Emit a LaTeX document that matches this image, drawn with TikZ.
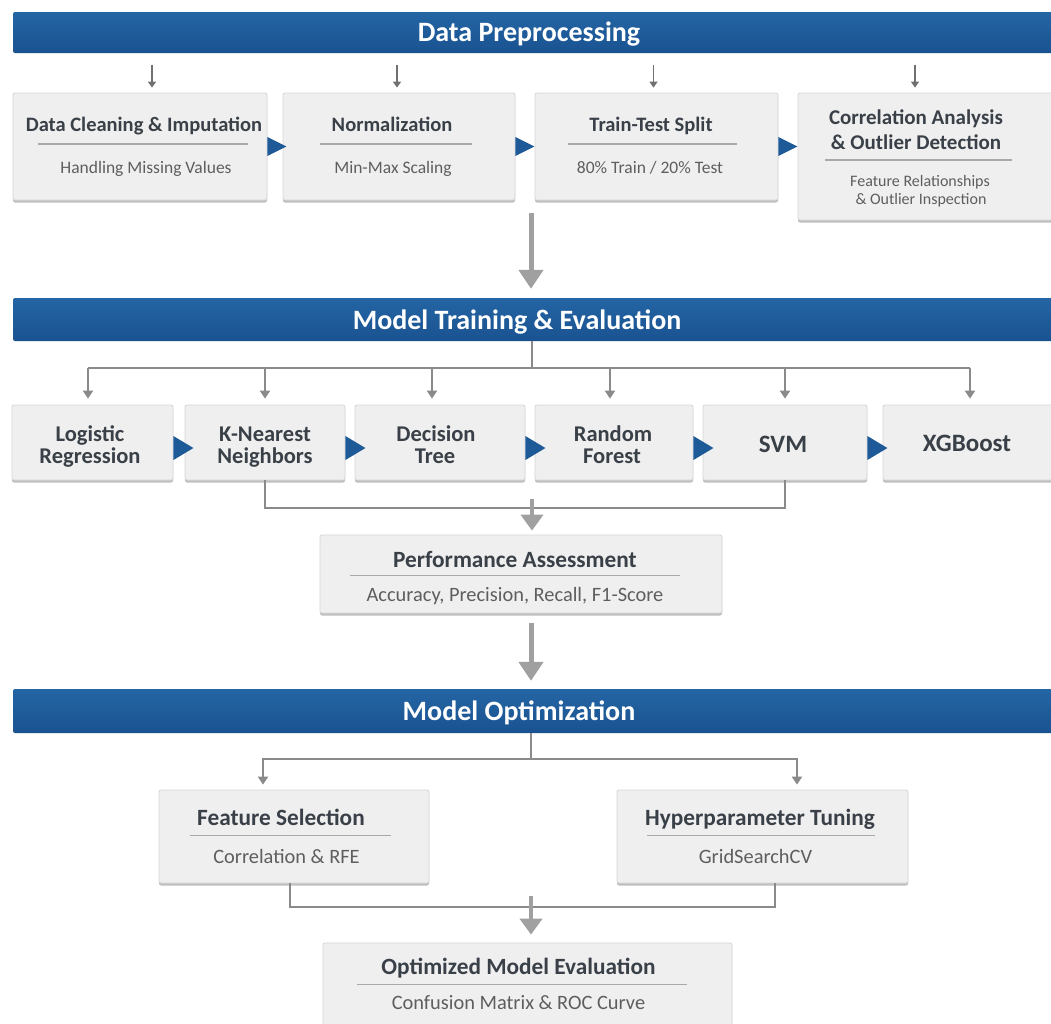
\documentclass[tikz,border=0pt]{standalone}
\usepackage{fontspec}
\setmainfont{Carlito}
\usetikzlibrary{arrows.meta,shadows,calc}
\definecolor{banblue}{HTML}{1E5A97}
\definecolor{bantop}{HTML}{2465A4}
\definecolor{banbot}{HTML}{1A5290}
\definecolor{boxfill}{HTML}{EFEFEF}
\definecolor{boxline}{HTML}{D6D6D6}
\definecolor{ttlcol}{HTML}{3A4048}
\definecolor{subcol}{HTML}{5E5E5E}
\definecolor{conncol}{HTML}{8A8A8A}
\definecolor{thincol}{HTML}{707070}
\definecolor{bigcol}{HTML}{A0A0A0}
\definecolor{sepcol}{HTML}{A8A8A8}
\newcommand\fBan{\fontsize{28}{32}\selectfont\bfseries}
\newcommand\fTa{\fontsize{20.5}{24}\selectfont\bfseries}
\newcommand\fSa{\fontsize{17.5}{20}\selectfont}
\newcommand\fTb{\fontsize{21}{25}\selectfont\bfseries}
\newcommand\fSb{\fontsize{16}{19}\selectfont}
\newcommand\fTm{\fontsize{22.5}{26}\selectfont\bfseries}
\newcommand\fTl{\fontsize{25}{29}\selectfont\bfseries}
\newcommand\fTp{\fontsize{23.3}{27}\selectfont\bfseries}
\newcommand\fSp{\fontsize{20.4}{24}\selectfont}
\begin{document}
\begin{tikzpicture}[x=1pt,y=-1pt,
  banner/.style={rectangle,rounded corners=2pt,top color=bantop,bottom color=banbot,draw=none,inner sep=0pt},
  bantext/.style={text=white,font=\fBan,inner sep=0pt,anchor=base},
  box/.style={rectangle,rounded corners=2pt,fill=boxfill,draw=boxline,line width=0.8pt,inner sep=0pt,
    drop shadow={shadow xshift=0pt,shadow yshift=-2.5pt,fill=black!45,opacity=0.55}},
  ttl/.style={text=ttlcol,inner sep=0pt,anchor=base},
  sub/.style={text=subcol,inner sep=0pt,anchor=base},
  sepline/.style={draw=sepcol,line width=1.3pt},
  conn/.style={draw=conncol,line width=2pt},
  arr/.style={-{Triangle[width=10pt,length=8pt]}},
  thinarr/.style={draw=thincol,line width=1.5pt,-{Triangle[width=8pt,length=6pt]}},
  bigarr/.style={draw=bigcol,line width=5pt,-{Triangle[width=24pt,length=19pt]}},
  medarr/.style={draw=bigcol,line width=4.5pt,-{Triangle[width=22pt,length=16pt]}},
  tri/.style={fill=banblue}
]
\useasboundingbox (0,0) rectangle (1051,1023);
\fill[white] (0,0) rectangle (1051,1023);

% ---------- Banners
\node[banner,minimum width=1047pt,minimum height=41pt] (ban1) at (536.5,32.5) {};
\node[bantext] (ban1t) at (529,41.5) {Data Preprocessing};
\node[banner,minimum width=1047pt,minimum height=43pt] (ban2) at (536.5,319.5) {};
\node[bantext] (ban2t) at (517,329) {Model Training \& Evaluation};
\node[banner,minimum width=1047pt,minimum height=44pt] (ban3) at (536.5,711) {};
\node[bantext] (ban3t) at (519,720) {Model Optimization};

% ---------- Row 1 boxes
\node[box,minimum width=254pt,minimum height=107pt] (b1) at (140,146.5) {};
\node[box,minimum width=232pt,minimum height=107pt] (b2) at (399,146.5) {};
\node[box,minimum width=243pt,minimum height=107pt] (b3) at (656.5,146.5) {};
\node[box,minimum width=258pt,minimum height=127pt] (b4) at (927,156.5) {};

\node[ttl,font=\fTa] (b1t) at (144,131.6) {Data Cleaning \& Imputation};
\draw[sepline] (38,144) -- (248,144);
\node[sub,font=\fSa] (b1s) at (146,173.6) {Handling Missing Values};

\node[ttl,font=\fTa] (b2t) at (392,131.6) {Normalization};
\draw[sepline] (320,144) -- (472,144);
\node[sub,font=\fSa] (b2s) at (393,173.6) {Min-Max Scaling};

\node[ttl,font=\fTa] (b3t) at (651,131.6) {Train-Test Split};
\draw[sepline] (568,144) -- (737,144);
\node[sub,font=\fSa] (b3s) at (650,173.6) {80\% Train / 20\% Test};

\node[ttl,font=\fTb] (b4t) at (916,124.8) {Correlation Analysis};
\node[ttl,font=\fTb] (b4u) at (916,149.8) {\& Outlier Detection};
\draw[sepline] (825,160) -- (1012,160);
\node[sub,font=\fSb] (b4s) at (920,186.2) {Feature Relationships};
\node[sub,font=\fSb] (b4v) at (921,204.2) {\& Outlier Inspection};

% row 1 thin arrows
\foreach \b/\dx in {b1/12,b2/-2,b3/-3,b4/-12}{
  \draw[thinarr] ($(\b.north)+(\dx,-28)$) -- ($(\b.north)+(\dx,-5)$);
}
% row 1 triangles
\foreach \b in {b1,b2,b3}{
  \fill[tri] ($(\b.east)+(0,-9.5)$) -- ++(19,9.5) -- ++(-19,9.5) -- cycle;
}

% big arrow 1
\coordinate (g1) at (531,213);
\draw[bigarr] (g1) -- ($(g1 |- ban2.north)+(0,-9)$);

% ---------- Row 2 boxes
\node[box,minimum width=161pt,minimum height=75pt] (m1) at (92.5,442.5) {};
\node[box,minimum width=160pt,minimum height=75pt] (m2) at (265,442.5) {};
\node[box,minimum width=170pt,minimum height=75pt] (m3) at (440,442.5) {};
\node[box,minimum width=158pt,minimum height=75pt] (m4) at (614,442.5) {};
\node[box,minimum width=164pt,minimum height=75pt] (m5) at (785,442.5) {};
\node[box,minimum width=173pt,minimum height=75pt] (m6) at (969.5,442.5) {};

\node[ttl,font=\fTm] (m1t) at (90,441.2) {Logistic};
\node[ttl,font=\fTm] (m1u) at (90,463.2) {Regression};
\node[ttl,font=\fTm] (m2t) at (265,441.2) {K-Nearest};
\node[ttl,font=\fTm] (m2u) at (265,463.2) {Neighbors};
\node[ttl,font=\fTm] (m3t) at (436,441.2) {Decision};
\node[ttl,font=\fTm] (m3u) at (435,463.2) {Tree};
\node[ttl,font=\fTm] (m4t) at (613,441.2) {Random};
\node[ttl,font=\fTm] (m4u) at (612,463.2) {Forest};
\node[ttl,font=\fTl] (m5t) at (783,452) {SVM};
\node[ttl,font=\fTl] (m6t) at (967,451) {XGBoost};

% split from banner 2
\coordinate (s2) at (532,368);
\draw[conn] (ban2.south -| s2) -- (s2);
\draw[conn] (88,368) -- (970,368);
\foreach \b/\dx in {m1/-4.5,m2/0,m3/-8,m4/-4,m5/0,m6/0.5}{
  \draw[conn,arr] ($(s2 -| \b.north)+(\dx,0)$) -- ($(\b.north)+(\dx,-6)$);
}
% row 2 triangles
\foreach \b in {m1,m2,m3,m4,m5}{
  \fill[tri] ($(\b.east)+(0,-6.5)$) -- ++(20,12) -- ++(-20,12) -- cycle;
}

% ---------- Performance box
\node[box,minimum width=402pt,minimum height=78pt] (perf) at (521,574) {};
\node[ttl,font=\fTp] (perft) at (515,567) {Performance Assessment};
\draw[sepline] (350,575.5) -- (680,575.5);
\node[sub,font=\fSp] (perfs) at (515,601.5) {Accuracy, Precision, Recall, F1-Score};

% collect
\draw[conn] (m2.south) -- ++(0,28) coordinate (c2) -| (m5.south);
\coordinate (j2) at (532,499);
\draw[medarr] (j2) -- ($(j2 |- perf.north)+(0,-4)$);

% big arrow 2
\coordinate (g2) at (531,623);
\draw[bigarr] (g2) -- ($(g2 |- ban3.north)+(0,-8)$);

% ---------- Row 3 boxes
\node[box,minimum width=270pt,minimum height=93pt] (fs) at (294,836.5) {};
\node[box,minimum width=291pt,minimum height=93pt] (hp) at (762.5,836.5) {};

\node[ttl,font=\fTp] (fst) at (281,825.7) {Feature Selection};
\draw[sepline] (190,835.5) -- (391,835.5);
\node[sub,font=\fSp] (fss) at (286.5,863.5) {Correlation \& RFE};

\node[ttl,font=\fTp] (hpt) at (760,825.7) {Hyperparameter Tuning};
\draw[sepline] (647,835.5) -- (875,835.5);
\node[sub,font=\fSp] (hps) at (755.5,863.5) {GridSearchCV};

\coordinate (s3) at (531,759);
\draw[conn] (ban3.south -| s3) -- (s3);
\draw[conn,arr] (s3) -| ($(fs.north)+(-31,-5)$);
\draw[conn,arr] (s3) -| ($(hp.north)+(34.5,-5)$);

% ---------- Optimized box
\node[box,minimum width=409pt,minimum height=92pt] (opt) at (527.5,989) {};
\node[ttl,font=\fTp] (optt) at (518.5,974.7) {Optimized Model Evaluation};
\draw[sepline] (357,984.5) -- (687,984.5);
\node[sub,font=\fSp] (opts) at (518.5,1009.5) {Confusion Matrix \& ROC Curve};

\draw[conn] ($(fs.south)+(-4,0)$) -- ++(0,24) coordinate (c3) -| ($(hp.south)+(12.5,0)$);
\coordinate (j3) at (531,896);
\draw[medarr] (j3) -- ($(j3 |- opt.north)+(0,-8)$);
\end{tikzpicture}
\end{document}
